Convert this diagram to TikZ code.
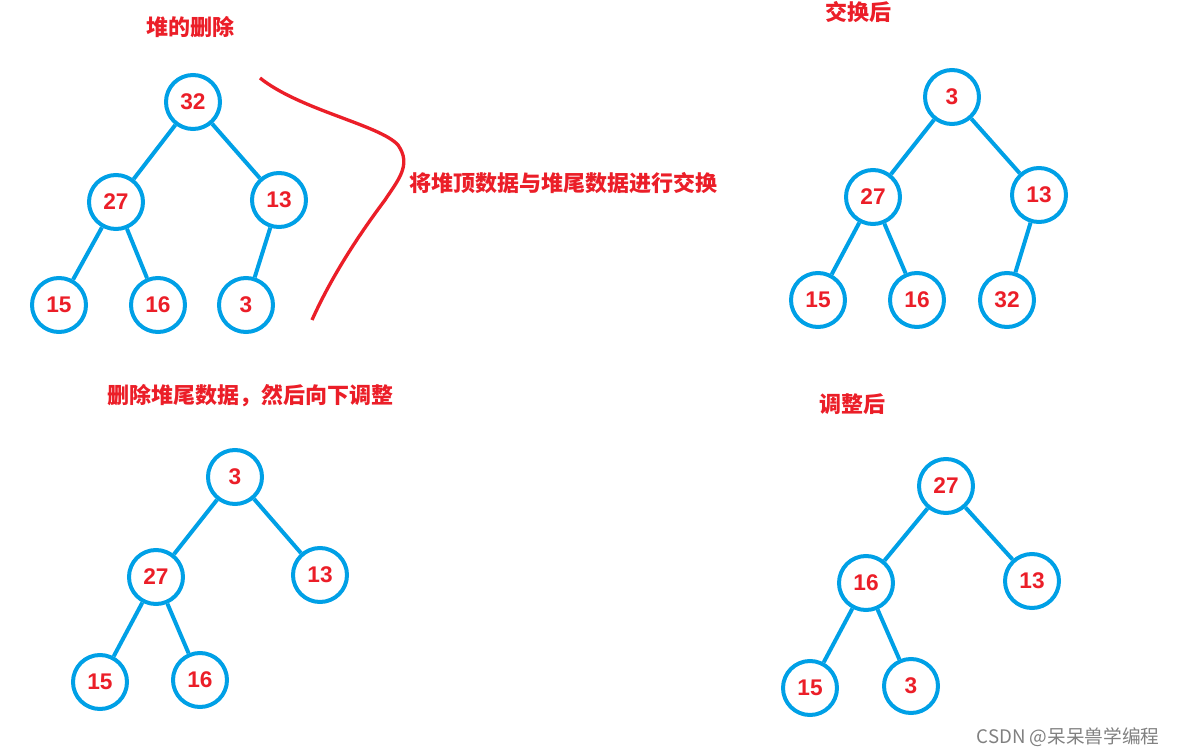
\documentclass[tikz,border=0pt]{standalone}
\usepackage{fontspec}
\setmainfont{Liberation Sans}
\newfontfamily\cjk{Noto Sans CJK SC}
\definecolor{nodeblue}{RGB}{0,160,230}
\definecolor{labred}{RGB}{235,30,40}
\begin{document}
\begin{tikzpicture}[x=0.75pt,y=-0.75pt,
  hn/.style={circle,draw=nodeblue,line width=3pt,minimum size=54*0.75pt,inner sep=0pt,text=labred,font=\bfseries\fontsize{17}{17}\selectfont},
  ed/.style={draw=nodeblue,line width=3pt},
  lab/.style={text=labred,font=\cjk\bfseries\fontsize{16.5}{16.5}\selectfont}]
\useasboundingbox (0,0) rectangle (1178,756);
% tree 1
\node[hn] (a1) at (193,102) {32};
\node[hn] (a2) at (116,202) {27};
\node[hn] (a3) at (279,200) {13};
\node[hn] (a4) at (59,305) {15};
\node[hn] (a5) at (158,305) {16};
\node[hn] (a6) at (246,305) {3};
\draw[ed] (a1)--(a2) (a1)--(a3) (a2)--(a4) (a2)--(a5) (a3)--(a6);
% tree 2
\node[hn] (b1) at (952,97) {3};
\node[hn] (b2) at (873,197) {27};
\node[hn] (b3) at (1039,195) {13};
\node[hn] (b4) at (818,300) {15};
\node[hn] (b5) at (917,300) {16};
\node[hn] (b6) at (1007,300) {32};
\draw[ed] (b1)--(b2) (b1)--(b3) (b2)--(b4) (b2)--(b5) (b3)--(b6);
% tree 3
\node[hn] (c1) at (235,477) {3};
\node[hn] (c2) at (156,577) {27};
\node[hn] (c3) at (320,575) {13};
\node[hn] (c4) at (100,682) {15};
\node[hn] (c5) at (200,680) {16};
\draw[ed] (c1)--(c2) (c1)--(c3) (c2)--(c4) (c2)--(c5);
% tree 4
\node[hn] (d1) at (946,486) {27};
\node[hn] (d2) at (866,583) {16};
\node[hn] (d3) at (1032,581) {13};
\node[hn] (d4) at (810,688) {15};
\node[hn] (d5) at (911,686) {3};
\draw[ed] (d1)--(d2) (d1)--(d3) (d2)--(d4) (d2)--(d5);
% labels
\node[lab] (t1) at (190,27) {堆的删除};
\node[lab] (t2) at (858,12) {交换后};
\node[lab] (t3) at (563,183) {将堆顶数据与堆尾数据进行交换};
\node[lab] (t4) at (250,396) {删除堆尾数据，然后向下调整};
\node[lab] (t5) at (852,404) {调整后};
\node[text=gray,font=\cjk\fontsize{14}{14}\selectfont] (wm) at (1068,737) {CSDN @呆呆兽学编程};
% red curve
\coordinate (r1) at (260,78);
\coordinate (r2) at (312,320);
\draw[labred,line width=2.5pt] (r1) .. controls (300,110) and (380,125) .. (398,145)
  .. controls (412,165) and (398,180) .. (385,200) .. controls (355,240) and (330,280) .. (r2);
\end{tikzpicture}
\end{document}
